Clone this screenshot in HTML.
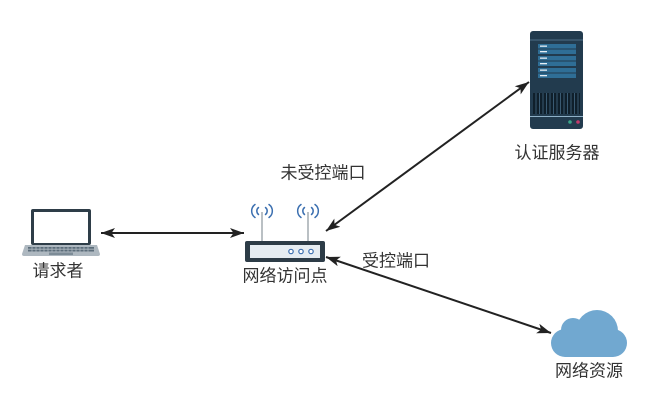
<!DOCTYPE html>
<html>
<head>
<meta charset="utf-8">
<style>
  html,body{margin:0;padding:0;background:#fff;}
  svg{display:block;}
  text{font-family:"Liberation Sans","Noto Sans CJK SC",sans-serif;font-size:17px;fill:#333;}
</style>
</head>
<body>
<svg width="663" height="418" viewBox="0 0 663 418" xmlns="http://www.w3.org/2000/svg">
  <defs>
    <marker id="ah" markerWidth="15" markerHeight="11" refX="14" refY="5" orient="auto-start-reverse" markerUnits="userSpaceOnUse">
      <path d="M0,0 L14,5 L0,10 L3.5,5 Z" fill="#222"/>
    </marker>
  </defs>

  <!-- Connectors -->
  <line x1="101" y1="233" x2="244" y2="233" stroke="#222" stroke-width="2" marker-start="url(#ah)" marker-end="url(#ah)"/>
  <line x1="326" y1="231" x2="529" y2="82" stroke="#222" stroke-width="2" marker-start="url(#ah)" marker-end="url(#ah)"/>
  <line x1="326" y1="257" x2="551" y2="333" stroke="#222" stroke-width="2" marker-start="url(#ah)" marker-end="url(#ah)"/>

  <!-- Laptop -->
  <rect x="31" y="209" width="60" height="36" rx="2" fill="#2e3d48"/>
  <rect x="34" y="212" width="54" height="31" fill="#ffffff"/>
  <path d="M25,245 L97,245 L100,254 Q100,256 98,256 L24,256 Q22,256 22,254 Z" fill="#aeb8c0"/>
  <rect x="28" y="247" width="66" height="4.5" fill="#5c6d7a"/>
  <g stroke="#aeb8c0" stroke-width="0.8">
    <line x1="32" y1="247" x2="32" y2="251.5"/><line x1="36" y1="247" x2="36" y2="251.5"/>
    <line x1="40" y1="247" x2="40" y2="251.5"/><line x1="44" y1="247" x2="44" y2="251.5"/>
    <line x1="48" y1="247" x2="48" y2="251.5"/><line x1="52" y1="247" x2="52" y2="251.5"/>
    <line x1="56" y1="247" x2="56" y2="251.5"/><line x1="60" y1="247" x2="60" y2="251.5"/>
    <line x1="64" y1="247" x2="64" y2="251.5"/><line x1="68" y1="247" x2="68" y2="251.5"/>
    <line x1="72" y1="247" x2="72" y2="251.5"/><line x1="76" y1="247" x2="76" y2="251.5"/>
    <line x1="80" y1="247" x2="80" y2="251.5"/><line x1="84" y1="247" x2="84" y2="251.5"/>
    <line x1="88" y1="247" x2="88" y2="251.5"/>
    <line x1="28" y1="249.2" x2="94" y2="249.2"/>
  </g>
  <rect x="49" y="252.5" width="24" height="2.5" fill="#7d8c97"/>
  <text x="58" y="271" text-anchor="middle" dominant-baseline="central">请求者</text>

  <!-- Router -->
  <line x1="262" y1="212" x2="262" y2="242" stroke="#a3abb1" stroke-width="1.5"/>
  <line x1="308" y1="212" x2="308" y2="242" stroke="#a3abb1" stroke-width="1.5"/>
  <g fill="none" stroke="#3b6fb0" stroke-width="1.5" stroke-linecap="round">
    <path d="M258.5,207.5 A4.5,4.5 0 0 0 258.5,214.5"/>
    <path d="M255,204.5 A8,8 0 0 0 255,217.5"/>
    <path d="M265.5,207.5 A4.5,4.5 0 0 1 265.5,214.5"/>
    <path d="M269,204.5 A8,8 0 0 1 269,217.5"/>
    <path d="M304.5,207.5 A4.5,4.5 0 0 0 304.5,214.5"/>
    <path d="M301,204.5 A8,8 0 0 0 301,217.5"/>
    <path d="M311.5,207.5 A4.5,4.5 0 0 1 311.5,214.5"/>
    <path d="M315,204.5 A8,8 0 0 1 315,217.5"/>
  </g>
  <rect x="245" y="241" width="80" height="21" rx="2" fill="#2d3c47"/>
  <rect x="250" y="245" width="70" height="13" fill="#e6edf2"/>
  <g fill="#ffffff" stroke="#3b6fb0" stroke-width="1.2">
    <circle cx="291" cy="251.5" r="2.2"/>
    <circle cx="301" cy="251.5" r="2.2"/>
    <circle cx="311" cy="251.5" r="2.2"/>
  </g>
  <text x="285" y="276" text-anchor="middle" dominant-baseline="central">网络访问点</text>

  <!-- Server -->
  <rect x="530" y="31" width="53" height="98" rx="3" fill="#223b4e"/>
  <line x1="530" y1="40" x2="583" y2="40" stroke="#4d6f88" stroke-width="1"/>
  <g fill="#2f6e96">
    <rect x="538" y="44" width="38" height="4.5"/>
    <rect x="538" y="49.5" width="38" height="4.5"/>
    <rect x="538" y="56" width="38" height="4.5"/>
    <rect x="538" y="61.5" width="38" height="4.5"/>
    <rect x="538" y="68" width="38" height="4.5"/>
    <rect x="538" y="73.5" width="38" height="4.5"/>
  </g>
  <g fill="#e6eef4">
    <rect x="540" y="45.5" width="7" height="1.3"/>
    <rect x="540" y="51" width="7" height="1.3"/>
    <rect x="540" y="57.5" width="7" height="1.3"/>
    <rect x="540" y="63" width="7" height="1.3"/>
    <rect x="540" y="69.5" width="7" height="1.3"/>
    <rect x="540" y="75" width="7" height="1.3"/>
  </g>
  <rect x="533" y="93" width="47" height="21" fill="#0f1f2b"/>
  <g stroke="#3a5a72" stroke-width="1">
    <line x1="536" y1="93" x2="536" y2="114"/><line x1="539.5" y1="93" x2="539.5" y2="114"/>
    <line x1="543" y1="93" x2="543" y2="114"/><line x1="546.5" y1="93" x2="546.5" y2="114"/>
    <line x1="550" y1="93" x2="550" y2="114"/><line x1="553.5" y1="93" x2="553.5" y2="114"/>
    <line x1="557" y1="93" x2="557" y2="114"/><line x1="560.5" y1="93" x2="560.5" y2="114"/>
    <line x1="564" y1="93" x2="564" y2="114"/><line x1="567.5" y1="93" x2="567.5" y2="114"/>
    <line x1="571" y1="93" x2="571" y2="114"/><line x1="574.5" y1="93" x2="574.5" y2="114"/>
    <line x1="578" y1="93" x2="578" y2="114"/>
  </g>
  <line x1="530" y1="116.5" x2="583" y2="116.5" stroke="#8fb1c8" stroke-width="1"/>
  <circle cx="570" cy="122" r="1.8" fill="#3aa58a"/>
  <circle cx="578" cy="122" r="1.8" fill="#c23a6c"/>
  <text x="557" y="153" text-anchor="middle" dominant-baseline="central">认证服务器</text>

  <!-- Cloud -->
  <g fill="#71a8d0">
    <circle cx="565" cy="343" r="14"/>
    <circle cx="613" cy="343" r="14"/>
    <circle cx="597" cy="331" r="21"/>
    <circle cx="573" cy="330" r="12"/>
    <rect x="565" y="330" width="48" height="27"/>
  </g>
  <text x="589" y="371" text-anchor="middle" dominant-baseline="central">网络资源</text>

  <!-- Connector labels -->
  <text x="323" y="173" text-anchor="middle" dominant-baseline="central">未受控端口</text>
  <text x="396" y="261" text-anchor="middle" dominant-baseline="central">受控端口</text>
</svg>
</body>
</html>
